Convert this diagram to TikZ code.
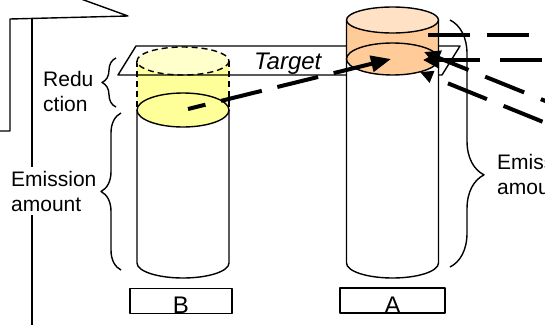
\documentclass[tikz,border=0pt]{standalone}
\usepackage{fontspec}
\setmainfont{Liberation Sans}
\usetikzlibrary{arrows.meta,decorations.pathreplacing}

\definecolor{ylwbody}{HTML}{FFFF99}
\definecolor{ylwtop}{HTML}{FFFFCC}
\definecolor{orgbody}{HTML}{FFCC99}
\definecolor{orgtop}{HTML}{FFE2C6}

\begin{document}
\begin{tikzpicture}[x=1pt,y=-1pt,line join=round,
  outline/.style={draw=black,line width=1.4pt},
  thickdash/.style={draw=black,line width=4pt},
  bigtip/.style={-{Triangle[length=20pt,width=16pt]}},
  lbl/.style={font=\fontsize{21}{25}\selectfont,align=left,inner sep=0pt},
  bracestyle/.style={outline,decorate,decoration={brace,amplitude=#1}},
  tagbox/.style={draw=black,line width=1.4pt,minimum width=#1,minimum height=25pt,inner sep=0pt},
  tagtext/.style={font=\fontsize{24}{24}\selectfont,inner sep=0pt,anchor=base}]
\useasboundingbox (0,0) rectangle (545,324);
\clip (0,0) rectangle (545,324);

% frame lines at the upper left
\draw[outline] (-5,131) -- (10,131) -- (10,19) -- (128,16) -- (70,-5);
\draw[outline] (32,19) -- (32,330);

% cylinder B: white body, yellow reduction slice
\fill[white] (137,110) -- (137,263) arc[start angle=180,end angle=0,x radius=46,y radius=15] -- (229,110) -- cycle;
\fill[ylwbody] (137,61) rectangle (229,110);
\draw[outline] (137,110) -- (137,263) arc[start angle=180,end angle=0,x radius=46,y radius=15] -- (229,110);
\draw[outline,dash pattern=on 6pt off 4pt] (137,61) -- (137,110) (229,61) -- (229,110);
\draw[outline,dash pattern=on 6pt off 4pt,fill=ylwtop] (183,61) ellipse[x radius=46,y radius=14];
\draw[outline,fill=ylwbody] (183,110) ellipse[x radius=46,y radius=17];
\coordinate (bsrc) at (188,109);

% target plane
\draw[outline] (118,75) -- (136,46) -- (460,46) -- (442,75) -- cycle;
\node[font=\fontsize{24}{24}\selectfont\itshape,inner sep=0pt,anchor=base west] (target) at (254,69) {Target};

% cylinder A
\fill[white] (346.5,20) -- (346.5,263) arc[start angle=180,end angle=0,x radius=46,y radius=15] -- (438.5,20) -- cycle;
\fill[orgbody] (346.5,20) rectangle (438.5,59);
\draw[outline] (346.5,20) -- (346.5,263) arc[start angle=180,end angle=0,x radius=46,y radius=15] -- (438.5,20);
\draw[outline,fill=orgtop] (392.5,20) ellipse[x radius=46,y radius=13];
\draw[outline,fill=orgbody] (392.5,59) ellipse[x radius=46,y radius=16];
\coordinate (adst) at (391,59);

% braces and their labels
\draw[bracestyle=14pt] (116,107) -- (116,58);
\draw[bracestyle=20pt] (121,270) -- (121,113);
\draw[bracestyle=34pt,decoration={aspect=0.627}] (450,20) -- (450,267);
\node[lbl,anchor=base west] (redu) at (43,111) {Redu\\ction};
\node[lbl,anchor=base west,fill=white,inner xsep=1pt,inner ysep=4pt] (emisL) at (10,211) {Emission\\amount};
\node[lbl,anchor=base west] (emisR) at (497,194) {Emission\\amount};

% name tags
\node[tagbox=102pt] (tagB) at (181,301) {};
\node[tagtext] (lblB) at (181,313.5) {B};
\node[tagbox=105pt] (tagA) at (392.5,300.5) {};
\node[tagtext] (lblA) at (392.5,313.5) {A};

% dashed transfer arrows
\draw[thickdash,bigtip,dash pattern=on 42pt off 16pt,dash phase=24pt] (bsrc) -- (adst);
\coordinate (h1a) at (428,35);
\coordinate (h1b) at (600,35);
\draw[thickdash,dash pattern=on 42pt off 17pt] (h1a) -- (h1b);
\coordinate (h2tip) at (423,60);
\coordinate (h2far) at (600,60);
\draw[thickdash,{Triangle[length=16pt,width=16pt]}-,dash pattern=on 42pt off 20pt] (h2tip) -- (h2far);
\coordinate (d1tip) at (424,52);
\coordinate (d1far) at (600,123);
\draw[thickdash,{Triangle[length=16pt,width=15pt]}-,dash pattern=on 42pt off 18pt,dash phase=9pt] (d1tip) -- (d1far);
\coordinate (d2tip) at (420,72);
\coordinate (d2far) at (600,145);
\draw[thickdash,{Triangle[length=13pt,width=12pt]}-,dash pattern=on 42pt off 18pt,dash phase=42pt] (d2tip) -- (d2far);
\end{tikzpicture}
\end{document}
